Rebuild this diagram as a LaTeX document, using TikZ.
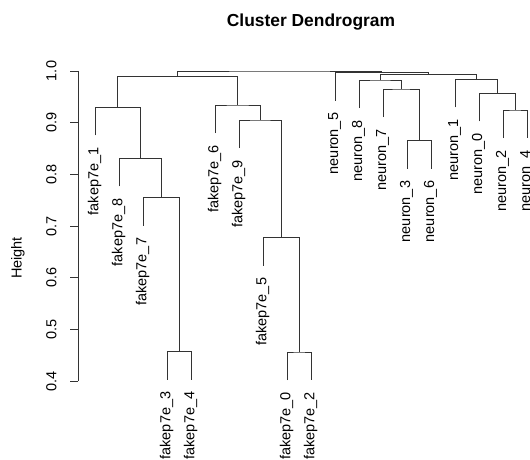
\documentclass[tikz,border=0pt]{standalone}
\usepackage{fontspec}
\setmainfont{Liberation Sans}
\begin{document}
\begin{tikzpicture}[x=1pt,y=-1pt,
  link/.style={draw=black!80,line width=0.9pt},
  axisline/.style={draw=black!80,line width=0.9pt},
  leaflab/.style={rotate=90,anchor=east,inner sep=0pt,font=\fontsize{14.5}{17}\selectfont},
  ticklab/.style={rotate=90,anchor=center,inner sep=0pt,font=\fontsize{14.5}{17}\selectfont},
  titlelab/.style={anchor=center,inner sep=0pt,font=\fontsize{17.4}{20}\selectfont\bfseries}]
\useasboundingbox[fill=white] (0,0) rectangle (530,460);
% title
\node[titlelab] (title) at (311,22.5) {Cluster Dendrogram};
% axis
\coordinate (ax1) at (78,71);
\coordinate (ax4) at (78,381.2);
\draw[axisline] (ax1) -- (ax4);
\foreach \v/\yy/\k in {1.0/71/a,0.9/122.7/b,0.8/174.4/c,0.7/226.1/d,0.6/277.8/e,0.5/329.5/f,0.4/381.2/g}{
  \coordinate (t\k) at (78,\yy);
  \coordinate (tt\k) at (69.5,\yy);
  \draw[axisline] (t\k) -- (tt\k);
  \node[ticklab] (tl\k) at (51.5,\yy) {\v};
}
\node[ticklab] (ylab) at (18,258) {Height};
% merge coordinates
\coordinate (m34) at (179,351.5);
\coordinate (m7) at (161,197.7);
\coordinate (m8) at (140,158.3);
\coordinate (m1) at (117.5,107.3);
\coordinate (m02) at (299,352);
\coordinate (m5) at (281,237.7);
\coordinate (m9) at (260,120);
\coordinate (m6) at (237.5,105);
\coordinate (mL) at (177.75,76.7);
\coordinate (m36) at (419,140.7);
\coordinate (mn7) at (401,89);
\coordinate (mn8) at (380,80);
\coordinate (m24) at (515,110);
\coordinate (mn0) at (497,93.3);
\coordinate (mn1) at (476,79.3);
\coordinate (mN) at (428,74.3);
\coordinate (mn5) at (381.5,72.7);
\coordinate (root) at (279.6,71);
% leaves: id / text / x / leaf end y
\foreach \n/\t/\xx/\yy in {f1/fakep7e\_1/95/135.3, f8/fakep7e\_8/119/186.3, f7/fakep7e\_7/143/225.7,
  f3/fakep7e\_3/167/379.5, f4/fakep7e\_4/191/379.5, f6/fakep7e\_6/215/133, f9/fakep7e\_9/239/148,
  f5/fakep7e\_5/263/265.7, f0/fakep7e\_0/287/380, f2/fakep7e\_2/311/380,
  n5/neuron\_5/335/100.7, n8/neuron\_8/359/108, n7/neuron\_7/383/117, n3/neuron\_3/407/168.7,
  n6/neuron\_6/431/168.7, n1/neuron\_1/455/107.3, n0/neuron\_0/479/121.3, n2/neuron\_2/503/138,
  n4/neuron\_4/527/138}{
  \coordinate (L-\n) at (\xx,\yy);
  \node[leaflab] (lab-\n) at ([xshift=-0.5pt,yshift=-12pt]L-\n) {\t};
}
% links
\draw[link] (L-f3) |- (m34) -| (L-f4);
\draw[link] (L-f7) |- (m7) -| (m34);
\draw[link] (L-f8) |- (m8) -| (m7);
\draw[link] (L-f1) |- (m1) -| (m8);
\draw[link] (L-f0) |- (m02) -| (L-f2);
\draw[link] (L-f5) |- (m5) -| (m02);
\draw[link] (L-f9) |- (m9) -| (m5);
\draw[link] (L-f6) |- (m6) -| (m9);
\draw[link] (m1) |- (mL) -| (m6);
\draw[link] (L-n3) |- (m36) -| (L-n6);
\draw[link] (L-n7) |- (mn7) -| (m36);
\draw[link] (L-n8) |- (mn8) -| (mn7);
\draw[link] (L-n2) |- (m24) -| (L-n4);
\draw[link] (L-n0) |- (mn0) -| (m24);
\draw[link] (L-n1) |- (mn1) -| (mn0);
\draw[link] (mn8) |- (mN) -| (mn1);
\draw[link] (L-n5) |- (mn5) -| (mN);
\draw[link] (mL) |- (root) -| (mn5);
\end{tikzpicture}
\end{document}
